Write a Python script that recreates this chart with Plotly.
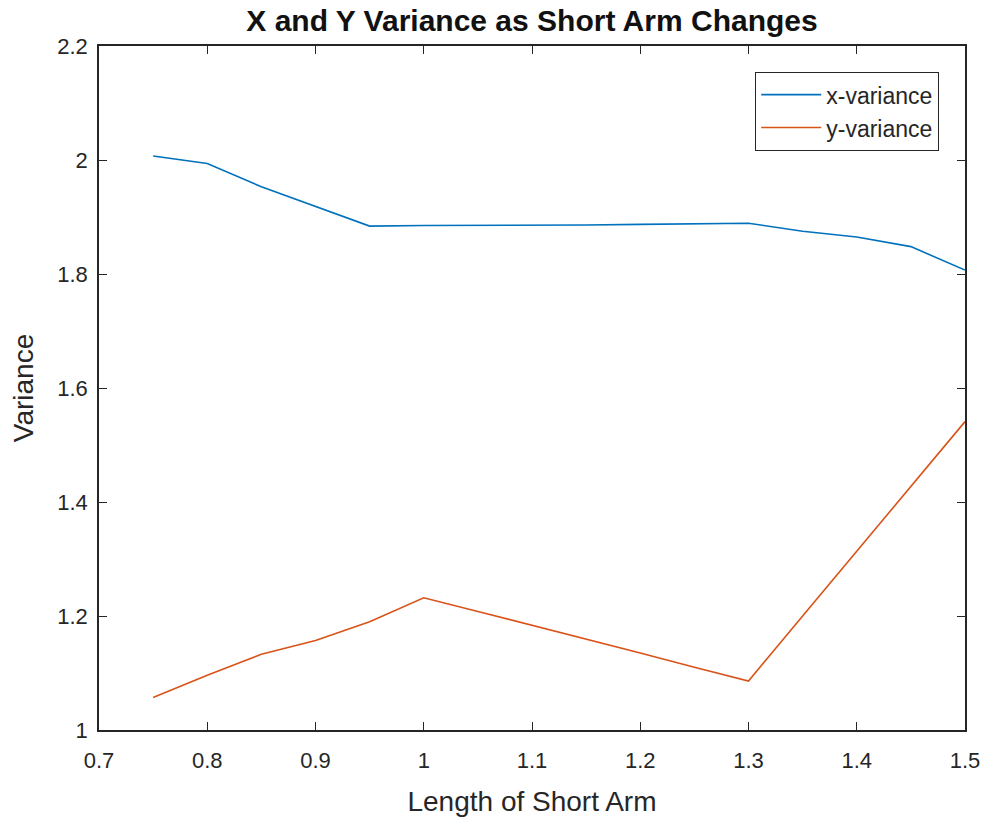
import plotly.graph_objects as go

# Short-arm length sweep and the resulting variances
arm_length = [0.75, 0.80, 0.85, 0.90, 0.95, 1.00, 1.05, 1.10, 1.15, 1.20,
              1.25, 1.30, 1.35, 1.40, 1.45, 1.50]
x_variance = [2.007, 1.994, 1.953, 1.918, 1.884, 1.885, 1.885, 1.886, 1.886,
              1.887, 1.888, 1.889, 1.875, 1.865, 1.848, 1.807]
y_variance = [1.057, 1.096, 1.133, 1.157, 1.190, 1.232, 1.208, 1.184, 1.159,
              1.135, 1.110, 1.086, 1.200, 1.313, 1.427, 1.541]

x_ticks = [0.7, 0.8, 0.9, 1.0, 1.1, 1.2, 1.3, 1.4, 1.5]
x_tick_text = ["0.7", "0.8", "0.9", "1", "1.1", "1.2", "1.3", "1.4", "1.5"]
y_ticks = [1.0, 1.2, 1.4, 1.6, 1.8, 2.0, 2.2]
y_tick_text = ["1", "1.2", "1.4", "1.6", "1.8", "2", "2.2"]

BLUE = "#0072BD"
ORANGE = "#D95319"
INK = "#262626"
FONT = "Liberation Sans, Arial, sans-serif"

fig = go.Figure()
fig.add_trace(go.Scatter(x=arm_length, y=x_variance, mode="lines",
                         name="x-variance", line=dict(color=BLUE, width=1.6)))
fig.add_trace(go.Scatter(x=arm_length, y=y_variance, mode="lines",
                         name="y-variance", line=dict(color=ORANGE, width=1.6)))

axis_common = dict(
    showline=True, linecolor=INK, linewidth=1.5, mirror="ticks",
    ticks="inside", ticklen=8, tickwidth=1.2, tickcolor=INK,
    showgrid=False, zeroline=False, automargin=False,
    tickfont=dict(family=FONT, size=22, color=INK),
)

fig.update_layout(
    template="none",
    width=987, height=817,
    paper_bgcolor="white", plot_bgcolor="white",
    margin=dict(l=99, r=22, t=46, b=87, pad=0),
    font=dict(family=FONT, color=INK),
    title=dict(text="<b>X and Y Variance as Short Arm Changes</b>",
               font=dict(family=FONT, size=30, color="#111111"),
               x=(99 + 965) / 2 / 987, xanchor="center",
               y=1 - 20 / 817, yanchor="middle", yref="container"),
    xaxis=dict(range=[0.7, 1.5], tickvals=x_ticks, ticktext=x_tick_text,
               ticklabelstandoff=10,
               title=dict(text="Length of Short Arm",
                          font=dict(family=FONT, size=28, color=INK)),
               **axis_common),
    yaxis=dict(range=[1.0, 2.2], tickvals=y_ticks, ticktext=y_tick_text,
               ticklabelstandoff=5,
               title=dict(text="Variance",
                          font=dict(family=FONT, size=28, color=INK)),
               **axis_common),
    legend=dict(x=0.97, y=0.962, xanchor="right", yanchor="top",
                bgcolor="white", bordercolor=INK, borderwidth=1.2,
                font=dict(family=FONT, size=23, color=INK),
                tracegroupgap=0, itemwidth=60),
    showlegend=True,
)

fig.write_html("out.html")
